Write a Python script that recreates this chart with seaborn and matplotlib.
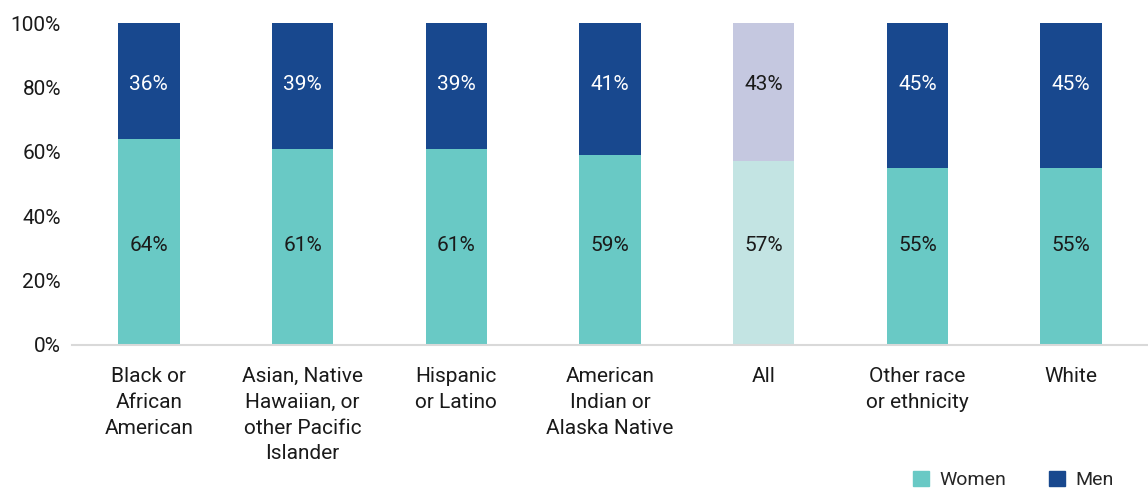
import matplotlib
matplotlib.use("Agg")
import matplotlib.pyplot as plt
import seaborn as sns
import pandas as pd
from matplotlib.patches import Patch

categories = ["Black or\nAfrican\nAmerican", "Asian, Native\nHawaiian, or\nother Pacific\nIslander",
              "Hispanic\nor Latino", "American\nIndian or\nAlaska Native", "All",
              "Other race\nor ethnicity", "White"]
women = [64, 61, 61, 59, 57, 55, 55]
men = [36, 39, 39, 41, 43, 45, 45]

women_colors = ["#69C9C5"] * 7
men_colors = ["#18488E"] * 7
women_colors[4] = "#C3E4E3"
men_colors[4] = "#C5C8E0"
men_text = ["white"] * 7
men_text[4] = "#1a1a1a"

sns.set_theme(style="white")
plt.rcParams['font.family'] = ['Roboto', 'DejaVu Sans']

df = pd.DataFrame({"cat": categories, "women": women, "men": men})
df["total"] = df["women"] + df["men"]

fig = plt.figure(figsize=(11.48, 4.9), dpi=100)
ax = fig.add_axes([72/1148, 1-345/490, 1-72/1148, (345-23)/490])

sns.barplot(data=df, x="cat", y="total", hue="cat", palette=men_colors, width=0.4,
            legend=False, ax=ax, saturation=1, linewidth=0, edgecolor="none")
sns.barplot(data=df, x="cat", y="women", hue="cat", palette=women_colors, width=0.4,
            legend=False, ax=ax, saturation=1, linewidth=0, edgecolor="none")

for i in range(len(categories)):
    ax.text(i, 31, f"{women[i]}%", ha="center", va="center", fontsize=15, color="#1a1a1a")
    ax.text(i, 80.8, f"{men[i]}%", ha="center", va="center", fontsize=15, color=men_text[i])

ax.set_ylim(0, 100)
ax.set_xlim(-0.5, len(categories) - 0.5)
ax.set_yticks([0, 20, 40, 60, 80, 100])
ax.set_yticklabels([f"{v}%" for v in [0, 20, 40, 60, 80, 100]], fontsize=15, color="#1a1a1a")
ax.tick_params(axis="x", labelsize=15, colors="#1a1a1a", length=0, pad=16)
ax.tick_params(axis="y", length=0, pad=8)
for lbl in ax.get_xticklabels():
    lbl.set_linespacing(1.45)
    lbl.set_va("top")
ax.set_xlabel("")
ax.set_ylabel("")
for s in ["top", "right", "left"]:
    ax.spines[s].set_visible(False)
ax.spines["bottom"].set_color("#D9D9D9")
ax.spines["bottom"].set_linewidth(1.5)

handles = [Patch(color="#69C9C5", label="Women"), Patch(color="#18488E", label="Men")]
fig.legend(handles=handles, loc="center right", bbox_to_anchor=(0.985, 1-480/490), ncol=2,
           frameon=False, fontsize=14, handlelength=0.85, handleheight=0.85, columnspacing=2.2,
           handletextpad=0.5)

fig.savefig("out.png", dpi=100)
